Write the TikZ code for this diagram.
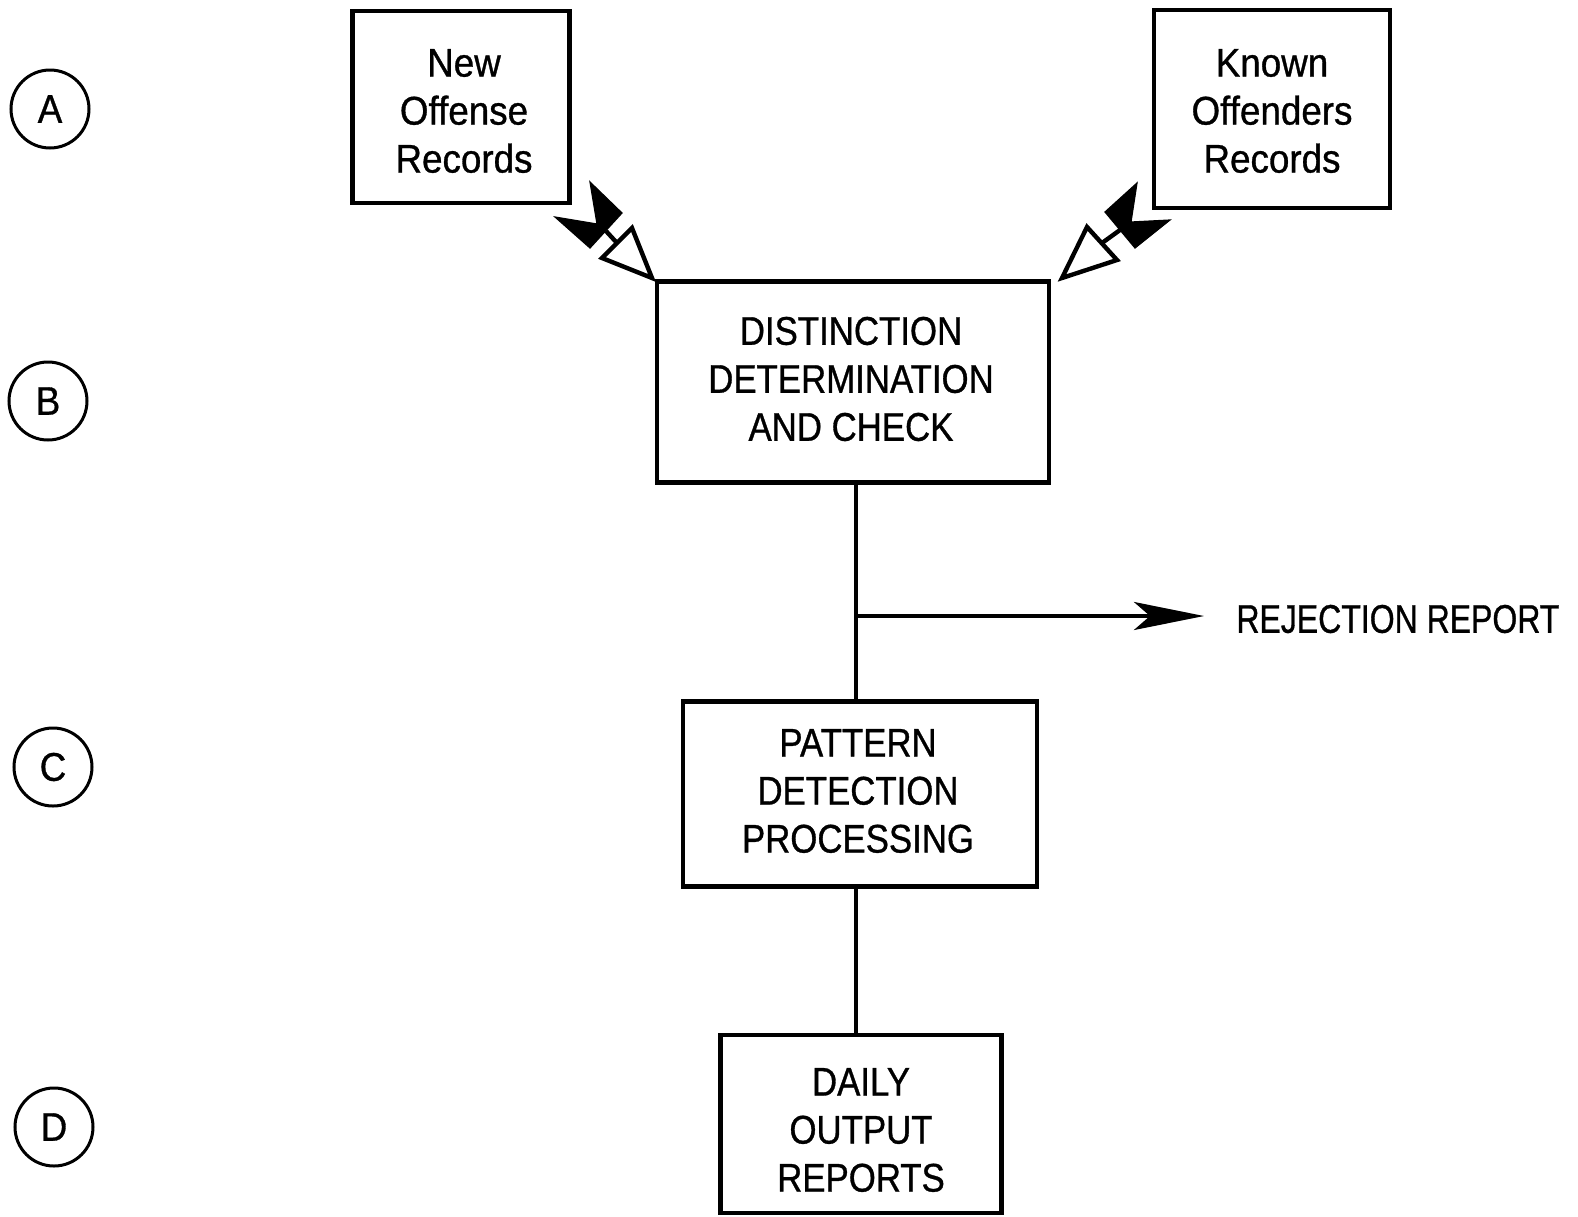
\documentclass[tikz,border=0pt]{standalone}
\usepackage{fontspec}
\setmainfont{Liberation Sans}[FakeStretch=0.92, FakeBold=0.8]
\newfontfamily\narrowfont{Liberation Sans}[FakeStretch=0.8, FakeBold=0.8]
\newfontfamily\capsfont{Liberation Sans}[FakeStretch=0.87, FakeBold=0.8]
\usetikzlibrary{arrows.meta}
\begin{document}
\begin{tikzpicture}[x=0.5pt,y=-0.5pt,
  lbl/.style={font=\fontsize{20}{24}\selectfont, align=center},
  capslbl/.style={font=\capsfont\fontsize{20}{24}\selectfont, align=center},
  procbox/.style={draw, line width=2.2pt, inner sep=0pt},
  stage/.style={circle, draw, line width=1.5pt, minimum size=39pt, inner sep=0pt,
                font=\fontsize{20}{24}\selectfont},
  flow/.style={line width=2pt},
  tipfill/.style={fill=black, draw=black, line width=0.6pt, line join=miter},
  tipopen/.style={draw=black, fill=white, line width=2.2pt, line join=miter}]
\useasboundingbox (0,0) rectangle (1578,1216);

% stage markers
\node[stage] (sa) at (50,109) {A};
\node[stage] (sb) at (48,401) {B};
\node[stage] (sc) at (53,767) {C};
\node[stage] (sd) at (54,1127) {D};

% processing boxes
\node[procbox, minimum width=108.5pt, minimum height=96pt] (newrec) at (461,107) {};
\node[procbox, minimum width=118pt, minimum height=99pt] (known) at (1272,109) {};
\node[procbox, minimum width=196pt, minimum height=100.5pt] (dist) at (853,382) {};
\node[procbox, minimum width=177pt, minimum height=92.5pt] (pat) at (860,794) {};
\node[procbox, minimum width=140.5pt, minimum height=89pt] (daily) at (861,1124) {};

% box texts
\node[lbl] (newrec-t) at ([xshift=1.5pt, yshift=-2pt]newrec.center) {New\\Offense\\Records};
\node[lbl] (known-t) at ([yshift=-1pt]known.center) {Known\\Offenders\\Records};
\node[capslbl] (dist-t) at ([xshift=-1pt, yshift=1.5pt]dist.center) {DISTINCTION\\DETERMINATION\\AND CHECK};
\node[capslbl] (pat-t) at ([xshift=-1pt, yshift=1.5pt]pat.center) {PATTERN\\DETECTION\\PROCESSING};
\node[capslbl] (daily-t) at ([yshift=-3pt]daily.center) {DAILY\\OUTPUT\\REPORTS};

\node[lbl, font=\narrowfont\fontsize{20}{24}\selectfont, anchor=west, inner sep=0pt]
  (rej) at (1236,619) {REJECTION REPORT};

% main flow
\coordinate (j) at (856,616);
\draw[flow] (dist.south -| j) -- (pat.north -| j);
\draw[flow] (pat.south -| j) -- (daily.north -| j);
\draw[flow, -{Stealth[length=35pt, width=14pt, inset=8pt]}, shorten >=16pt]
  (j) -- (j -| rej.west);

% two-way link: new offense records <-> distinction box
\draw[tipfill] (590,182) -- (622,213) -- (590,248) -- (555,217) -- (597,224) -- cycle;
\draw[line width=2.2pt] (606,231) -- (617,243);
\draw[tipopen] (632,228) -- (602,258) -- (652,278) -- cycle;

% two-way link: known offenders records <-> distinction box
\draw[tipfill] (1137,183) -- (1131,222) -- (1170,220) -- (1135,248) -- (1105,212) -- cycle;
\draw[line width=2.2pt] (1120,230) -- (1102,243);
\draw[tipopen] (1087,227) -- (1117,260) -- (1062,278) -- cycle;
\end{tikzpicture}
\end{document}
